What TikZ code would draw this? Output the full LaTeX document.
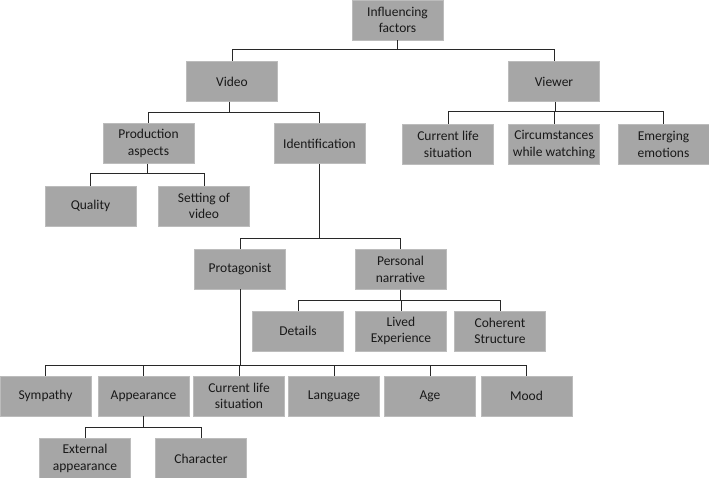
\documentclass[tikz,border=0pt]{standalone}
\usepackage{fontspec}
\setmainfont{Carlito}
\definecolor{boxgray}{RGB}{166,166,166}
\definecolor{linegray}{RGB}{40,40,40}

\begin{document}
\begin{tikzpicture}[x=1pt,y=-1pt,
    factor/.style = {shape=rectangle, fill=boxgray, draw=boxgray!75!white, line width=0.6pt,
        minimum width=91pt, minimum height=40pt, inner sep=0pt, align=center,
        text=black!90, font=\fontsize{13.5}{16.5}\selectfont},
    link/.style = {draw=linegray, line width=1pt}]
    \useasboundingbox (0,0) rectangle (709,478);

    % top levels
    \node (factors) [factor] at (397.5,20) {Influencing\\factors};
    \node (video) [factor] at (232,81.5) {Video};
    \node (viewer) [factor] at (554,81.5) {Viewer};

    \node (production) [factor] at (148.5,143.5) {Production\\aspects};
    \node (identification) [factor] at (319.5,143.5) {Identification};
    \node (situation) [factor] at (448,144.5) {Current life\\situation};
    \node (circumstances) [factor] at (554,144.5) {Circumstances\\while watching};
    \node (emotions) [factor] at (663.5,144.5) {Emerging\\emotions};

    \node (quality) [factor] at (90.5,206) {Quality};
    \node (setting) [factor] at (204,206) {Setting of\\video};

    % identification
    \node (protagonist) [factor] at (240,269) {Protagonist};
    \node (narrative) [factor] at (400.5,269.5) {Personal\\narrative};

    \node (details) [factor] at (298,331) {Details};
    \node (lived) [factor] at (401,331) {Lived\\Experience};
    \node (coherent) [factor] at (500,331) {Coherent\\Structure};

    % protagonist
    \node (sympathy) [factor] at (45.5,396) {Sympathy};
    \node (appearance) [factor] at (143.5,396) {Appearance};
    \node (protsituation) [factor] at (239,396) {Current life\\situation};
    \node (language) [factor] at (334,396) {Language};
    \node (age) [factor] at (430,396) {Age};
    \node (mood) [factor] at (526.5,396) {Mood};

    \node (external) [factor] at (85,458.5) {External\\appearance};
    \node (character) [factor] at (201,458.5) {Character};

    % connectors
    \foreach \c in {video,viewer}
        \path[link] (factors.south) -- (factors.south |- 0,50) -| (\c.north);
    \foreach \c in {production,identification}
        \path[link] ([xshift=-3pt]video.south) -- ([xshift=-3pt]video.south |- 0,113) -| (\c.north);
    \foreach \c in {situation,circumstances,emotions}
        \path[link] ([xshift=1.5pt]viewer.south) -- ([xshift=1.5pt]viewer.south |- 0,112) -| (\c.north);
    \foreach \c in {quality,setting}
        \path[link] ([xshift=-1.5pt]production.south) -- ([xshift=-1.5pt]production.south |- 0,174) -| (\c.north);
    \foreach \c in {protagonist,narrative}
        \path[link] (identification.south) -- (identification.south |- 0,239) -| (\c.north);
    \foreach \c in {details,lived,coherent}
        \path[link] (narrative.south) -- (narrative.south |- 0,300) -| (\c.north);
    \foreach \c in {sympathy,appearance,protsituation,language,age,mood}
        \path[link] (protagonist.south) -- (protagonist.south |- 0,365) -| (\c.north);
    \foreach \c in {external,character}
        \path[link] (appearance.south) -- (appearance.south |- 0,427) -| (\c.north);
\end{tikzpicture}
\end{document}
